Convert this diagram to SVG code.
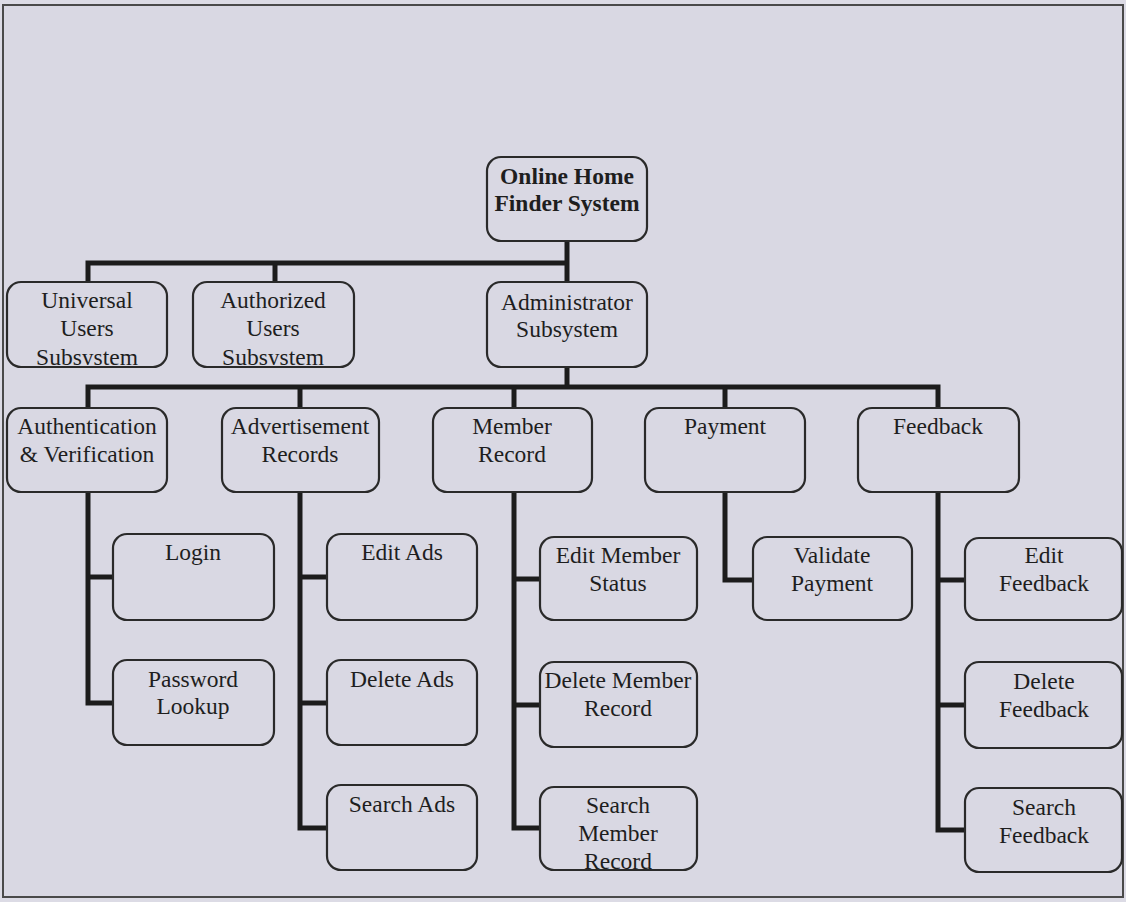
<svg xmlns="http://www.w3.org/2000/svg" width="1126" height="902" viewBox="0 0 1126 902">
  <style>
    .box { fill: #d9d8e3; stroke: #2a2a2a; stroke-width: 2.2; }
    .lbl { font-family: "Liberation Serif", "Times New Roman", serif; font-size: 23.5px; fill: #1e1e1e; text-anchor: middle; }
    .bold { font-weight: bold; }
    .wire { fill: none; stroke: #1c1c1c; stroke-width: 5; stroke-linejoin: miter; }
  </style>
  <defs>
    <clipPath id="clip-universal"><rect x="8" y="283" width="158" height="82"/></clipPath>
    <clipPath id="clip-authorized"><rect x="194" y="283" width="159" height="82"/></clipPath>
    <clipPath id="clip-search-member"><rect x="541" y="788" width="155" height="81"/></clipPath>
  </defs>

  <!-- page background and frame -->
  <rect x="0" y="0" width="1126" height="902" fill="#dcdbe5"/>
  <rect x="3" y="5" width="1120" height="892" fill="#d9d8e3" stroke="#4a4a4a" stroke-width="2"/>

  <!-- connectors -->
  <g id="connectors" class="wire">
    <path d="M567,241 V282"/>
    <path d="M88,282 V263 H567"/>
    <path d="M275,263 V282"/>
    <path d="M567,367 V387"/>
    <path d="M88,408 V387 H938 V408"/>
    <path d="M300,387 V408"/>
    <path d="M514,387 V408"/>
    <path d="M725,387 V408"/>
    <path d="M88,492 V703 H113"/>
    <path d="M88,577 H113"/>
    <path d="M300,492 V828 H327"/>
    <path d="M300,577 H327"/>
    <path d="M300,703 H327"/>
    <path d="M514,492 V828 H540"/>
    <path d="M514,579 H540"/>
    <path d="M514,705 H540"/>
    <path d="M725,492 V580 H753"/>
    <path d="M938,492 V830 H965"/>
    <path d="M938,580 H965"/>
    <path d="M938,705 H965"/>
  </g>

  <!-- top level -->
  <g id="root">
    <rect class="box" x="487" y="157" width="160" height="84" rx="14"/>
    <text class="lbl bold" x="567" y="184">Online Home</text>
    <text class="lbl bold" x="567" y="211">Finder System</text>
  </g>

  <!-- subsystems -->
  <g id="universal">
    <rect class="box" x="7" y="282" width="160" height="85" rx="14"/>
    <g clip-path="url(#clip-universal)">
      <text class="lbl" x="87" y="308">Universal</text>
      <text class="lbl" x="87" y="336">Users</text>
      <text class="lbl" x="87" y="365">Subsystem</text>
    </g>
  </g>
  <g id="authorized">
    <rect class="box" x="193" y="282" width="161" height="85" rx="14"/>
    <g clip-path="url(#clip-authorized)">
      <text class="lbl" x="273" y="308">Authorized</text>
      <text class="lbl" x="273" y="336">Users</text>
      <text class="lbl" x="273" y="365">Subsystem</text>
    </g>
  </g>
  <g id="administrator">
    <rect class="box" x="487" y="282" width="160" height="85" rx="14"/>
    <text class="lbl" x="567" y="310">Administrator</text>
    <text class="lbl" x="567" y="337">Subsystem</text>
  </g>

  <!-- administrator modules -->
  <g id="authentication">
    <rect class="box" x="7" y="408" width="160" height="84" rx="14"/>
    <text class="lbl" x="87" y="434">Authentication</text>
    <text class="lbl" x="87" y="462">&amp; Verification</text>
  </g>
  <g id="advertisement">
    <rect class="box" x="222" y="408" width="157" height="84" rx="14"/>
    <text class="lbl" x="300" y="434">Advertisement</text>
    <text class="lbl" x="300" y="462">Records</text>
  </g>
  <g id="member">
    <rect class="box" x="433" y="408" width="159" height="84" rx="14"/>
    <text class="lbl" x="512" y="434">Member</text>
    <text class="lbl" x="512" y="462">Record</text>
  </g>
  <g id="payment">
    <rect class="box" x="645" y="408" width="160" height="84" rx="14"/>
    <text class="lbl" x="725" y="434">Payment</text>
  </g>
  <g id="feedback">
    <rect class="box" x="858" y="408" width="161" height="84" rx="14"/>
    <text class="lbl" x="938" y="434">Feedback</text>
  </g>

  <!-- authentication functions -->
  <g id="login">
    <rect class="box" x="113" y="534" width="161" height="86" rx="14"/>
    <text class="lbl" x="193" y="560">Login</text>
  </g>
  <g id="password-lookup">
    <rect class="box" x="113" y="660" width="161" height="85" rx="14"/>
    <text class="lbl" x="193" y="687">Password</text>
    <text class="lbl" x="193" y="714">Lookup</text>
  </g>

  <!-- advertisement functions -->
  <g id="edit-ads">
    <rect class="box" x="327" y="534" width="150" height="86" rx="14"/>
    <text class="lbl" x="402" y="560">Edit Ads</text>
  </g>
  <g id="delete-ads">
    <rect class="box" x="327" y="660" width="150" height="85" rx="14"/>
    <text class="lbl" x="402" y="687">Delete Ads</text>
  </g>
  <g id="search-ads">
    <rect class="box" x="327" y="785" width="150" height="85" rx="14"/>
    <text class="lbl" x="402" y="812">Search Ads</text>
  </g>

  <!-- member functions -->
  <g id="edit-member-status">
    <rect class="box" x="540" y="537" width="157" height="83" rx="14"/>
    <text class="lbl" x="618" y="563">Edit Member</text>
    <text class="lbl" x="618" y="591">Status</text>
  </g>
  <g id="delete-member-record">
    <rect class="box" x="540" y="662" width="157" height="85" rx="14"/>
    <text class="lbl" x="618" y="688">Delete Member</text>
    <text class="lbl" x="618" y="716">Record</text>
  </g>
  <g id="search-member-record">
    <rect class="box" x="540" y="787" width="157" height="83" rx="14"/>
    <g clip-path="url(#clip-search-member)">
      <text class="lbl" x="618" y="813">Search</text>
      <text class="lbl" x="618" y="841">Member</text>
      <text class="lbl" x="618" y="869">Record</text>
    </g>
  </g>

  <!-- payment functions -->
  <g id="validate-payment">
    <rect class="box" x="753" y="537" width="159" height="83" rx="14"/>
    <text class="lbl" x="832" y="563">Validate</text>
    <text class="lbl" x="832" y="591">Payment</text>
  </g>

  <!-- feedback functions -->
  <g id="edit-feedback">
    <rect class="box" x="965" y="538" width="157" height="82" rx="14"/>
    <text class="lbl" x="1044" y="563">Edit</text>
    <text class="lbl" x="1044" y="591">Feedback</text>
  </g>
  <g id="delete-feedback">
    <rect class="box" x="965" y="662" width="157" height="86" rx="14"/>
    <text class="lbl" x="1044" y="689">Delete</text>
    <text class="lbl" x="1044" y="717">Feedback</text>
  </g>
  <g id="search-feedback">
    <rect class="box" x="965" y="788" width="157" height="84" rx="14"/>
    <text class="lbl" x="1044" y="815">Search</text>
    <text class="lbl" x="1044" y="843">Feedback</text>
  </g>
</svg>
